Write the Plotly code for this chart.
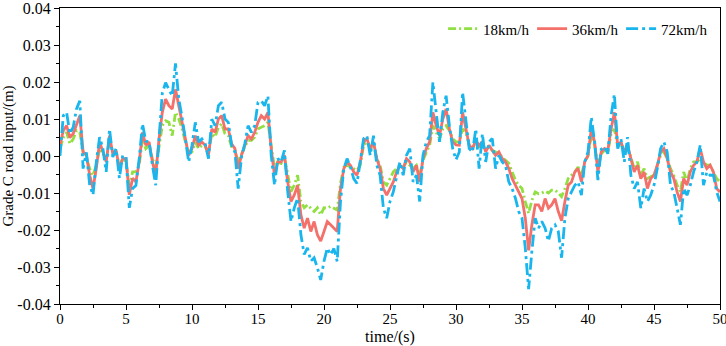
import numpy as np
import plotly.graph_objects as go

# time axis (s), 0.25 s spacing
time_s = np.arange(0, 50.0001, 0.25)

# road input in mm (converted to m below)
v18_mm = [
    2.0, 5.0, 6.4, 3.3,   4.6, 6.9, 6.4, 1.1,   -0.5, -3.4, -5.2, -2.5,   2.0, 0.6, -0.7, 3.8,
    1.1, 1.1, -2.5, -0.7,   -1.6, -7.9, -4.3, -4.3,   -2.5, 4.6, 2.0, 2.9,   -0.7, -3.4, 2.9, 8.2,
    9.5, 9.1, 5.5, 11.8,   10.0, 7.3, 3.8, 1.1,   1.1, 3.8, 2.0, 2.9,   2.5, 1.1, 6.0, 5.1,
    7.8, 8.7, 6.0, 5.5,   2.5, 1.5, -1.6, 0.6,   2.5, 4.2, 4.2, 5.1,   7.3, 7.8, 8.2, 9.1,
    2.9, -3.4, -1.6, -2.0,   -0.3, -5.2, -9.6, -7.9,   -5.2, -12.3, -14.0, -13.2,   -14.0, -15.0, -14.0, -15.9,
    -14.0, -14.1, -13.6, -14.1,   -14.6, -7.4, -3.0, -2.5,   -3.0, -3.4, -3.9, -2.5,   2.9, 3.8, 2.0, 2.9,
    -0.7, -2.5, -7.0, -7.9,   -6.1, -4.3, -3.4, -2.5,   -3.0, -1.6, -2.5, -3.4,   -2.5, -5.2, -1.1, 1.1,
    2.9, 8.2, 6.4, 4.7,   7.3, 8.2, 6.9, 4.7,   3.8, 3.8, 7.3, 6.4,   2.9, 2.5, 3.3, 2.5,
    2.5, 2.0, 2.0, 1.5,   1.1, 0.6, -0.3, -1.1,   -2.0, -4.3, -6.5, -7.9,   -8.8, -12.3, -15.5, -12.0,
    -9.7, -10.2, -10.0, -9.5,   -10.0, -9.2, -9.2, -10.0,   -11.0, -8.8, -6.1, -5.2,   -4.3, -3.0, -5.2, -1.6,
    0.0, 5.5, 2.9, -2.5,   0.6, 1.5, 1.1, 6.0,   7.3, 2.5, 3.3, 1.5,   2.0, -0.3, -3.4, -1.6,
    -5.2, -3.4, -6.1, -5.6,   -5.2, -2.5, 0.2, 1.1,   -0.7, -3.4, -5.2, -7.9,   -9.7, -4.3, -7.0, -3.4,
    -1.6, -1.6, -0.7, -1.6,   -2.5, -2.5, -4.3, -6.1,   -7.0,
]

v36_mm = [
    3.0, 6.9, 8.2, 5.0,   6.0, 8.7, 10.9, 1.1,   0.2, -5.2, -8.8, -3.4,   3.8, 1.1, -1.6, 5.5,
    0.6, 1.5, -3.4, -0.7,   -0.7, -10.5, -6.0, -7.0,   -1.6, 6.4, 2.9, 3.8,   -1.6, -5.2, 4.6, 11.8,
    15.4, 13.6, 12.7, 18.0,   13.6, 8.7, 4.6, 0.2,   2.0, 5.5, 2.9, 3.8,   2.9, 0.2, 7.3, 6.4,
    10.0, 10.9, 7.3, 7.3,   3.3, 2.0, -3.4, 0.2,   2.9, 5.5, 4.6, 6.4,   9.1, 10.9, 10.0, 11.8,
    2.0, -5.2, -1.6, -1.6,   0.2, -7.0, -12.3, -10.5,   -7.9, -15.9, -19.5, -16.8,   -20.4, -17.7, -21.3, -23.0,
    -20.4, -17.7, -18.6, -19.5,   -20.4, -8.8, -3.4, -1.6,   -2.5, -4.3, -5.2, -1.6,   3.8, 4.7, 2.0, 3.8,
    -0.7, -3.4, -8.8, -10.6,   -8.8, -7.0, -4.3, -2.5,   -3.4, -0.7, -1.6, -4.3,   -2.5, -7.0, -0.7, 2.0,
    3.8, 11.8, 8.2, 5.5,   10.0, 12.7, 7.3, 3.8,   3.0, 2.9, 11.8, 7.3,   2.9, 2.0, 4.2, 2.9,
    3.8, 1.1, 2.9, 1.5,   0.2, 1.1, -0.7, -1.6,   -3.4, -6.1, -7.9, -9.7,   -11.5, -16.8, -25.5, -18.5,
    -13.2, -13.2, -15.0, -11.5,   -14.1, -13.2, -11.5, -15.0,   -17.5, -12.3, -7.9, -7.0,   -4.3, -3.4, -7.0, -1.6,
    0.2, 7.3, 3.8, -4.3,   1.1, 2.0, 1.5, 7.3,   11.8, 2.9, 3.8, 1.1,   2.9, -0.7, -4.3, -2.5,
    -6.1, -4.3, -8.8, -6.1,   -5.2, -2.5, 1.1, 2.0,   -0.7, -4.3, -6.1, -9.7,   -12.3, -6.1, -7.9, -4.3,
    -2.5, -1.6, 2.0, -1.6,   -3.4, -2.5, -4.3, -8.8,   -9.7,
]

v72_mm = [
    0.0, 10.9, 11.8, 6.0,   7.8, 12.7, 14.9, -3.4,   1.0, -7.9, -10.5, -1.6,   5.1, 2.0, -4.3, 7.3,
    -0.3, 2.0, -6.0, 0.2,   -0.3, -14.0, -8.8, -8.0,   -0.7, 8.7, 4.0, 3.8,   -2.5, -7.9, 4.6, 17.0,
    19.8, 18.0, 16.2, 25.0,   15.4, 10.4, 3.8, -1.6,   2.9, 9.1, 3.8, 4.6,   3.3, -0.7, 10.0, 8.2,
    13.6, 14.5, 10.0, 9.1,   2.9, 1.1, -8.8, -0.3,   3.3, 8.2, 6.4, 8.2,   14.5, 14.9, 13.6, 16.2,
    0.2, -7.9, -0.7, -1.6,   1.5, -9.6, -17.7, -14.0,   -11.4, -21.3, -26.6, -24.8,   -28.4, -27.5, -30.2, -33.5,
    -28.4, -24.9, -26.7, -25.0,   -28.5, -12.3, -3.4, -0.7,   -3.0, -6.1, -7.4, -1.6,   4.7, 5.5, 0.2, 5.5,
    -2.5, -5.2, -14.1, -16.8,   -12.3, -9.7, -5.2, -1.6,   -5.2, 0.2, 2.0, -7.0,   -5.2, -12.3, 0.2, 3.8,
    5.5, 19.9, 11.8, 3.8,   11.8, 16.3, 8.2, 2.0,   -1.0, 1.1, 17.2, 9.1,   2.0, 1.1, 7.3, -3.4,
    6.0, -1.6, 3.8, 4.7,   -3.4, 0.2, -1.6, -2.5,   -7.0, -8.8, -11.4, -15.0,   -16.8, -24.9, -36.0, -25.7,
    -16.8, -19.5, -17.7, -19.5,   -23.0, -19.5, -18.6, -20.4,   -27.5, -16.8, -11.5, -9.7,   -7.9, -7.0, -10.6, -1.6,
    1.1, 10.5, 3.8, -6.5,   1.8, 2.5, 0.6, 10.9,   16.7, 2.0, 4.6, -1.6,   5.1, -5.2, -8.8, -7.0,
    -14.1, -8.8, -12.3, -10.6,   -7.9, -3.4, 2.0, 3.8,   1.1, -7.9, -9.7, -14.1,   -18.6, -8.8, -10.6, -7.9,
    -4.3, -1.6, 2.9, -7.9,   -4.3, -5.2, -5.2, -9.7,   -12.3,
]

series_names = ["18km/h", "36km/h", "72km/h"]
series_colors = ["#8FE040", "#F4706B", "#19B6EE"]
series_dash = ["8px,3px,2px,3px", "solid", "12px,4px,3px,4px"]

x_tickvals = [0, 5, 10, 15, 20, 25, 30, 35, 40, 45, 50]
y_tickvals = [0.04, 0.03, 0.02, 0.01, 0.0, -0.01, -0.02, -0.03, -0.04]
y_ticktext = ["0.04", "0.03", "0.02", "0.01", "0.00", "-0.01", "-0.02", "-0.03", "-0.04"]

fig = go.Figure()
for name, vals, col, dash in zip(series_names, [v18_mm, v36_mm, v72_mm], series_colors, series_dash):
    fig.add_trace(go.Scatter(
        x=time_s, y=np.array(vals) / 1000.0, mode="lines", name=name,
        line=dict(color=col, width=2.8, dash=dash),
    ))

font_family = "Liberation Serif, Times New Roman, serif"
axis_common = dict(
    showline=True, linecolor="black", linewidth=1.2, mirror=True,
    ticks="outside", ticklen=5, tickwidth=1.2, tickcolor="black",
    showgrid=False, zeroline=False, ticklabeloverflow="allow", automargin=False,
)
fig.update_xaxes(
    range=[0, 50], tickvals=x_tickvals,
    tickfont=dict(family=font_family, size=15, color="black"),
    ticklabelstandoff=-4,
    minor=dict(ticks="outside", ticklen=3, tickwidth=1, tickcolor="black", dtick=2.5, tick0=0),
    title=dict(text="time/(s)", font=dict(family=font_family, size=16, color="black"), standoff=5),
    **axis_common,
)
fig.update_yaxes(
    range=[-0.04, 0.04], tickvals=y_tickvals, ticktext=y_ticktext,
    tickfont=dict(family=font_family, size=16, color="black"),
    minor=dict(ticks="outside", ticklen=3, tickwidth=1, tickcolor="black", dtick=0.005, tick0=0),
    title=dict(text="Grade C road input/(m)", font=dict(family=font_family, size=15, color="black"), standoff=4),
    **axis_common,
)
fig.update_layout(
    width=726, height=346,
    margin=dict(l=60, r=6, t=8, b=42),
    plot_bgcolor="white", paper_bgcolor="white",
    showlegend=True,
    legend=dict(
        orientation="h", x=0.985, xanchor="right", y=0.985, yanchor="top",
        bgcolor="rgba(0,0,0,0)", font=dict(family=font_family, size=15, color="black"),
        itemwidth=30, tracegroupgap=0, entrywidth=44,
    ),
)
fig.write_html(
    "out.html",
    config={"displayModeBar": False},
    post_script="document.body.style.margin='0';document.body.style.overflow='hidden';",
)
